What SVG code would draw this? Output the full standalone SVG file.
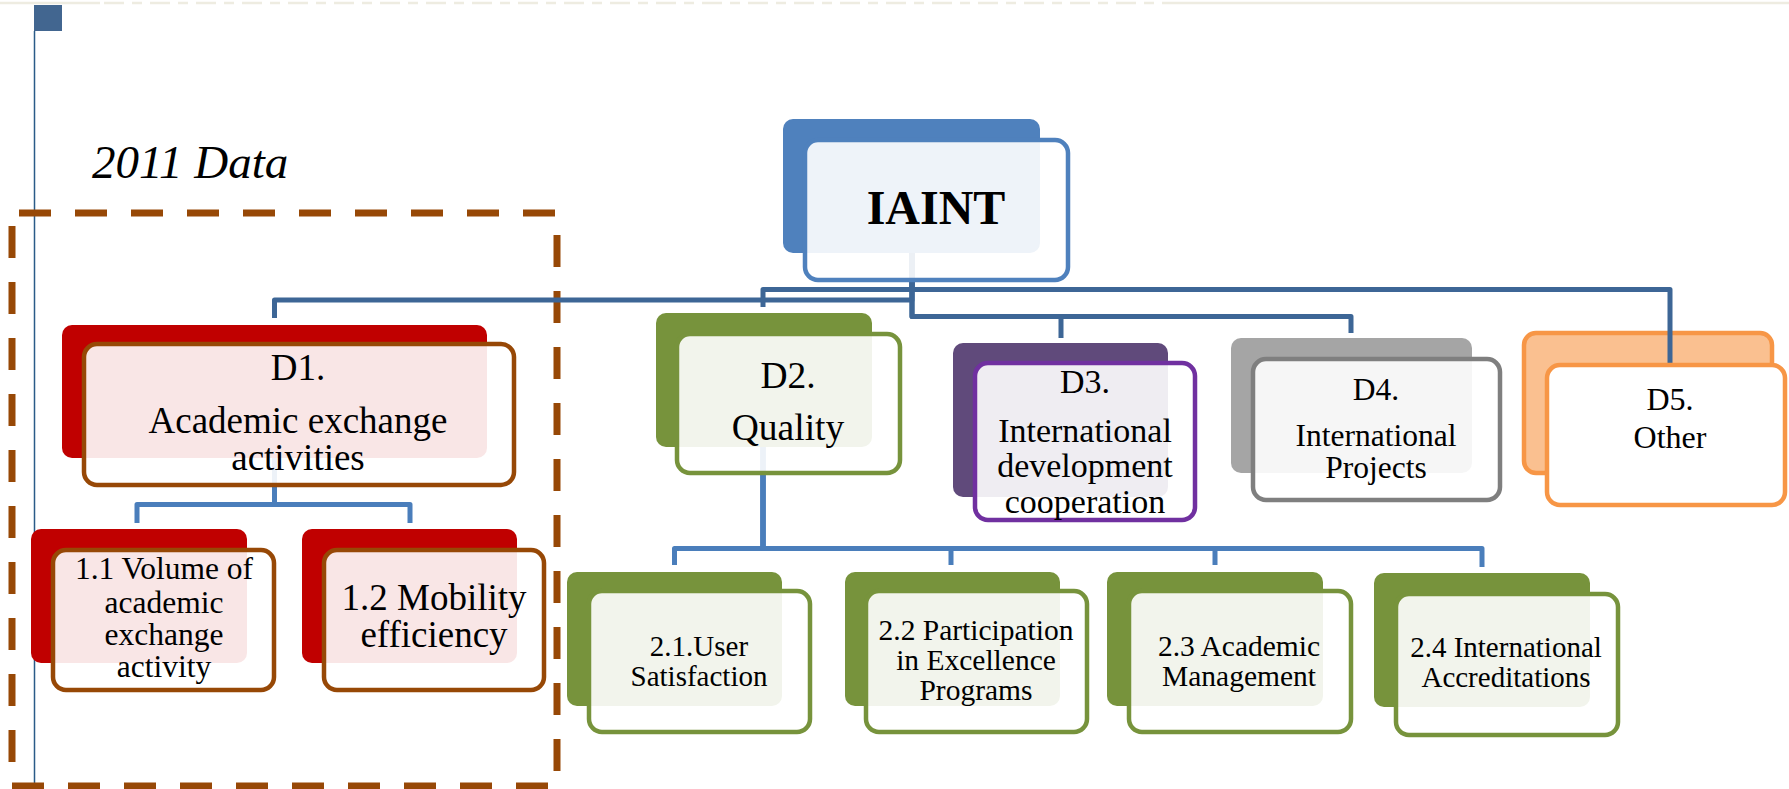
<svg xmlns="http://www.w3.org/2000/svg" width="1789" height="789" viewBox="0 0 1789 789">
<style>
.t{font-family:"Liberation Serif","Times New Roman",serif;fill:#000;text-anchor:middle}
.back{stroke:none}
.front{fill:#fff;fill-opacity:0.9;stroke-width:4.5}
.c1{fill:none;stroke:#3d6696;stroke-width:5;stroke-linejoin:round}
.c2{fill:none;stroke:#4a7ebb;stroke-width:5;stroke-linejoin:round}
</style>
<rect width="1789" height="789" fill="#fff"/>
<!-- decorations -->
<g id="decor">
<line x1="0" y1="3" x2="100" y2="3" stroke="#eeece1" stroke-width="2.5"/>
<line x1="104" y1="3" x2="1180" y2="3" stroke="#eeece1" stroke-width="2.5" stroke-dasharray="20 8 10 8"/>
<line x1="1180" y1="3" x2="1789" y2="3" stroke="#eeece1" stroke-width="2.5"/>
<rect x="34" y="5" width="28" height="26" fill="#426690"/>
<line x1="34.5" y1="31" x2="34.5" y2="789" stroke="#2a5b88" stroke-width="1.5"/>
<text x="92" y="178" font-family="Liberation Serif, Times New Roman, serif" font-style="italic" font-size="47" fill="#000">2011 Data</text>
<rect x="12" y="213" width="545" height="573" fill="none" stroke="#974806" stroke-width="7" stroke-dasharray="32 24" stroke-dashoffset="49"/>
</g>
<!-- back boxes -->
<g id="backs">
<rect class="back" x="783" y="119" width="257" height="134" rx="10" fill="#4f81bd"/>
<rect class="back" x="62" y="325" width="425" height="133" rx="10" fill="#c00000"/>
<rect class="back" x="656" y="313" width="216" height="134" rx="10" fill="#77933c"/>
<rect class="back" x="953" y="343" width="215" height="154" rx="10" fill="#604a7b"/>
<rect class="back" x="1231" y="338" width="241" height="135" rx="10" fill="#a5a5a5"/>
<rect x="1524" y="333" width="248" height="140" rx="12" fill="#fac090" stroke="#f79646" stroke-width="4.5"/>
<rect class="back" x="31" y="529" width="216" height="134" rx="10" fill="#c00000"/>
<rect class="back" x="302" y="529" width="215" height="134" rx="10" fill="#c00000"/>
<rect class="back" x="567" y="572" width="215" height="134" rx="10" fill="#77933c"/>
<rect class="back" x="845" y="572" width="215" height="134" rx="10" fill="#77933c"/>
<rect class="back" x="1107" y="572" width="216" height="134" rx="10" fill="#77933c"/>
<rect class="back" x="1374" y="573" width="216" height="134" rx="10" fill="#77933c"/>
</g>
<!-- connectors -->
<g id="connectors">
<path class="c1" d="M912 253 V300 H274.5 V318"/>
<path class="c1" d="M912 253 V289.5 H763 V307"/>
<path class="c1" d="M912 253 V316.5 H1061 V338"/>
<path class="c1" d="M912 253 V316.5 H1351 V333"/>
<path class="c1" d="M912 253 V289.5 H1670 V365"/>
<path class="c2" d="M274.5 458 V504.5 H137 V523"/>
<path class="c2" d="M274.5 458 V504.5 H410 V523"/>
<path class="c2" d="M763 447 V548.5 H674.5 V565"/>
<path class="c2" d="M763 447 V548.5 H951 V565"/>
<path class="c2" d="M763 447 V548.5 H1215 V565"/>
<path class="c2" d="M763 447 V548.5 H1482 V567"/>
</g>
<!-- nodes -->
<g id="n-iaint">
<rect class="front" x="805" y="140" width="263" height="140" rx="13" stroke="#4f81bd"/>
<text class="t" x="936" y="224" font-size="48" font-weight="bold">IAINT</text>
</g>
<g id="n-d1">
<rect class="front" x="84" y="344" width="430" height="141" rx="13" stroke="#974806"/>
<text class="t" font-size="37"><tspan x="298" y="380">D1.</tspan><tspan x="298" y="433">Academic exchange</tspan><tspan x="298" y="470">activities</tspan></text>
</g>
<g id="n-d2">
<rect class="front" x="677" y="334" width="223" height="139" rx="13" stroke="#77933c"/>
<text class="t" font-size="37.5"><tspan x="788" y="388">D2.</tspan><tspan x="788" y="440">Quality</tspan></text>
</g>
<g id="n-d3">
<rect class="front" x="975" y="363" width="220" height="157" rx="13" stroke="#7030a0"/>
<text class="t" font-size="34"><tspan x="1085" y="393">D3.</tspan><tspan x="1085" y="442">International</tspan><tspan x="1085" y="477">development</tspan><tspan x="1085" y="513">cooperation</tspan></text>
</g>
<g id="n-d4">
<rect class="front" x="1253" y="359" width="247" height="141" rx="13" stroke="#7f7f7f"/>
<text class="t" font-size="31.5"><tspan x="1376" y="400">D4.</tspan><tspan x="1376" y="446">International</tspan><tspan x="1376" y="478">Projects</tspan></text>
</g>
<g id="n-d5">
<rect x="1547" y="365" width="238" height="140" rx="13" fill="#fff" stroke="#f79646" stroke-width="4.5"/>
<text class="t" font-size="32"><tspan x="1670" y="410">D5.</tspan><tspan x="1670" y="448">Other</tspan></text>
</g>
<g id="n-1-1">
<rect class="front" x="53" y="550" width="221" height="140" rx="13" stroke="#974806"/>
<text class="t" font-size="31.5"><tspan x="164" y="579">1.1 Volume of</tspan><tspan x="164" y="613">academic</tspan><tspan x="164" y="645">exchange</tspan><tspan x="164" y="677">activity</tspan></text>
</g>
<g id="n-1-2">
<rect class="front" x="324" y="550" width="220" height="140" rx="13" stroke="#974806"/>
<text class="t" font-size="37"><tspan x="434" y="610">1.2 Mobility</tspan><tspan x="434" y="647">efficiency</tspan></text>
</g>
<g id="n-2-1">
<rect class="front" x="589" y="591" width="221" height="141" rx="13" stroke="#77933c"/>
<text class="t" font-size="29"><tspan x="699" y="656">2.1.User</tspan><tspan x="699" y="686">Satisfaction</tspan></text>
</g>
<g id="n-2-2">
<rect class="front" x="866" y="591" width="221" height="141" rx="13" stroke="#77933c"/>
<text class="t" font-size="29.5"><tspan x="976" y="640">2.2 Participation</tspan><tspan x="976" y="670">in Excellence</tspan><tspan x="976" y="700">Programs</tspan></text>
</g>
<g id="n-2-3">
<rect class="front" x="1129" y="591" width="222" height="141" rx="13" stroke="#77933c"/>
<text class="t" font-size="29.5"><tspan x="1239" y="656">2.3 Academic</tspan><tspan x="1239" y="686">Management</tspan></text>
</g>
<g id="n-2-4">
<rect class="front" x="1396" y="594" width="222" height="141" rx="13" stroke="#77933c"/>
<text class="t" font-size="29"><tspan x="1506" y="657">2.4 International</tspan><tspan x="1506" y="687">Accreditations</tspan></text>
</g>
</svg>
